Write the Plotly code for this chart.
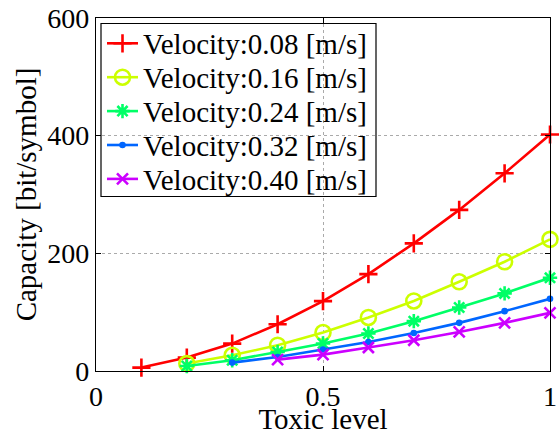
import plotly.graph_objects as go

toxic = [0.1, 0.2, 0.3, 0.4, 0.5, 0.6, 0.7, 0.8, 0.9, 1.0]
v008 = [5.8, 22.8, 46.6, 79.5, 118.7, 164.7, 217, 273.8, 336, 402]
v016 = [None, 12.6, 26.7, 43.8, 65.4, 91, 119, 151.6, 185.7, 223.8]
v024 = [None, 8.5, 18.2, 32.4, 46.7, 63.7, 84.7, 108, 131.9, 158.4]
v032 = [None, None, 14.3, 23.9, 36.5, 49.4, 64.7, 81.8, 101.7, 122.7]
v040 = [None, None, None, 19.4, 27.9, 39.9, 52.3, 66.4, 81.8, 98.8]

names = ["Velocity:0.08 [m/s]", "Velocity:0.16 [m/s]", "Velocity:0.24 [m/s]",
         "Velocity:0.32 [m/s]", "Velocity:0.40 [m/s]"]
series = [v008, v016, v024, v032, v040]
colors = ["#FF0000", "#CCFF00", "#00FF66", "#0066FF", "#CC00FF"]
symbols = ["cross-thin", "circle-open", "asterisk-open", "circle", "x-thin-open"]
sizes = [13, 15, 12, 4, 11]

xticks = [0, 0.5, 1]
yticks = [0, 200, 400, 600]
XR = [0, 1]
YR = [0, 600]

FONT = "Liberation Serif"
LW = 2.6

# page/plot geometry (pixels): plot area spans 96..550 horizontally, 18..371 vertically
W, H = 559, 435
ML, MR, MT, MB = 96, 9, 18, 64
PX_L, PX_R, PX_T, PX_B = ML, W - MR, MT, H - MB

# legend layout in pixels
LEG_BOX = (101, 376, 23.5, 196.5)  # left, right, top, bottom
LEG_ROW0, LEG_DY = 43.3, 33.9
LEG_LINE_X = [107, 138]
LEG_MARK_X = 122.5
LEG_TEXT_X = 141


def px_to_paper_x(px):
    return (px - PX_L) / (PX_R - PX_L)


def px_to_paper_y(py):
    return (PX_B - py) / (PX_B - PX_T)


def px_to_data_x(px):
    return XR[0] + px_to_paper_x(px) * (XR[1] - XR[0])


def px_to_data_y(py):
    return YR[0] + px_to_paper_y(py) * (YR[1] - YR[0])


fig = go.Figure()
for n, s, c, sym, sz in zip(names, series, colors, symbols, sizes):
    fig.add_trace(go.Scatter(
        x=toxic, y=s, name=n, mode="lines+markers", showlegend=False,
        line=dict(color=c, width=LW), cliponaxis=False,
        marker=dict(symbol=sym, size=sz, color=c, line=dict(color=c, width=LW)),
    ))

# legend drawn as a box of samples and text
annotations = []
for i, (n, c, sym, sz) in enumerate(zip(names, colors, symbols, sizes)):
    yy = LEG_ROW0 + i * LEG_DY
    fig.add_trace(go.Scatter(
        x=[px_to_data_x(v) for v in LEG_LINE_X], y=[px_to_data_y(yy)] * 2,
        mode="lines", line=dict(color=c, width=LW), showlegend=False, hoverinfo="skip"))
    fig.add_trace(go.Scatter(
        x=[px_to_data_x(LEG_MARK_X)], y=[px_to_data_y(yy)], mode="markers",
        marker=dict(symbol=sym, size=sz, color=c, line=dict(color=c, width=LW)),
        showlegend=False, hoverinfo="skip"))
    annotations.append(dict(
        x=px_to_paper_x(LEG_TEXT_X), y=px_to_paper_y(yy + 1), xref="paper", yref="paper",
        text=n, showarrow=False, xanchor="left", yanchor="middle",
        font=dict(family=FONT, size=29, color="black")))

shapes = [
    dict(type="rect", xref="paper", yref="paper", layer="between",
         x0=px_to_paper_x(LEG_BOX[0]), x1=px_to_paper_x(LEG_BOX[1]),
         y0=px_to_paper_y(LEG_BOX[3]), y1=px_to_paper_y(LEG_BOX[2]),
         fillcolor="white", line=dict(color="black", width=1.2)),
]

axis_common = dict(
    showline=True, linecolor="black", linewidth=1.2, mirror="allticks",
    ticks="inside", ticklen=5, tickcolor="black", tickwidth=1,
    showgrid=True, gridcolor="#AAAAAA", griddash="dot", gridwidth=1,
    zeroline=False, automargin=False, ticklabeloverflow="allow",
    tickfont=dict(size=28),
)

fig.update_layout(
    width=W, height=H,
    margin=dict(l=ML, r=MR, t=MT, b=MB, autoexpand=False),
    paper_bgcolor="white", plot_bgcolor="white",
    font=dict(family=FONT, size=28, color="black"),
    showlegend=False,
    xaxis=dict(range=XR, tickvals=xticks, ticktext=["0", "0.5", "1"],
               title=dict(text="Toxic level", font=dict(size=29), standoff=1),
               **axis_common),
    yaxis=dict(range=YR, tickvals=yticks,
               title=dict(text="Capacity [bit/symbol]", font=dict(size=29), standoff=2),
               **axis_common),
    shapes=shapes,
    annotations=annotations,
)

fig.write_html("out.html", config={"displayModeBar": False},
               post_script="document.body.style.margin='0';document.body.style.overflow='hidden';")
